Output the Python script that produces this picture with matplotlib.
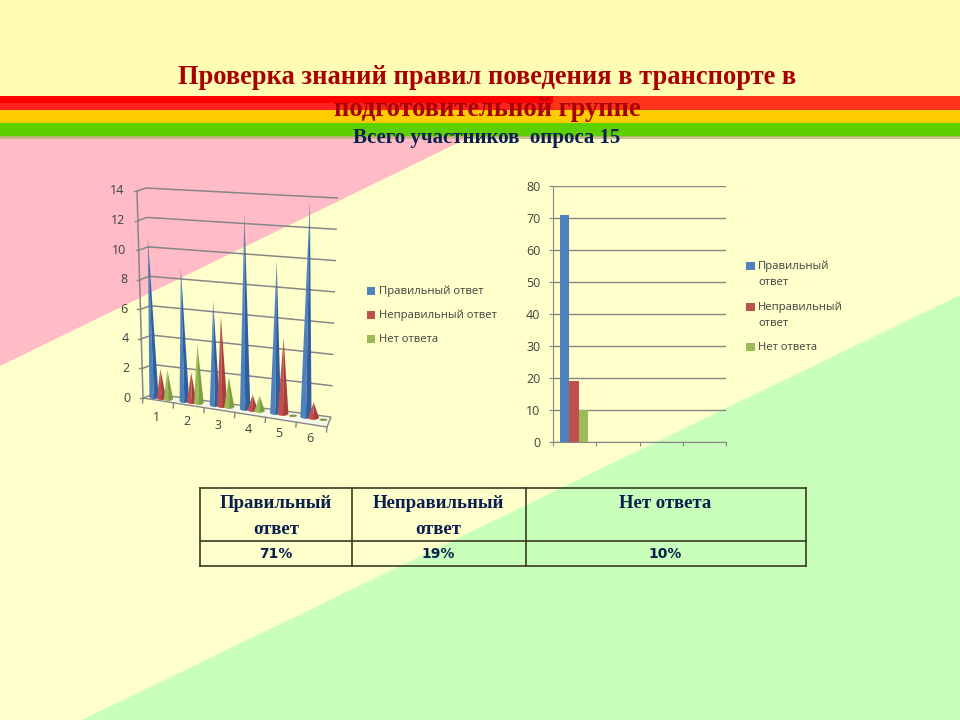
import matplotlib
matplotlib.use('Agg')
from matplotlib import pyplot as plt
from matplotlib.patches import Ellipse, Polygon, Rectangle

# опрос по вопросам, 15 участников
questions = ['1', '2', '3', '4', '5', '6']
right_answers = [11, 9, 7, 13, 10, 14]
wrong_answers = [2, 2, 6, 1, 5, 1]
no_answers = [2, 4, 2, 1, 0, 0]

# итог в процентах
series_names = ['Правильный ответ', 'Неправильный ответ', 'Нет ответа']
series_lines = [['Правильный', 'ответ'], ['Неправильный', 'ответ'], ['Нет ответа']]
percent_values = [71, 19, 10]
percent_labels = ['71%', '19%', '10%']

left_ticks = [0, 2, 4, 6, 8, 10, 12, 14]
right_ticks = [0, 10, 20, 30, 40, 50, 60, 70, 80]

BLUE = '#4F81BD'
RED = '#C0504D'
GREEN = '#9BBB59'
DARK_BLUE = '#2F5F9E'
DARK_RED = '#A83E3B'
DARK_GREEN = '#7F9F3F'
GRID = '#868686'
TEXT = '#404040'
NAVY = '#0A1F50'
SANS = 'Open Sans'
SERIF = 'Liberation Serif'

fig = plt.figure(figsize=(9.6, 7.2), dpi=100)

# фон, оси в пикселях картинки
bg = fig.add_axes([0, 0, 1, 1])
bg.set_xlim(0, 960)
bg.set_ylim(720, 0)
bg.axis('off')

bg.add_patch(Rectangle((0, 0), 960, 720, color='#FFFFCC', lw=0, zorder=0))
bg.add_patch(Rectangle((0, 0), 960, 97, color='#FFFCB4', lw=0, zorder=1))
bg.add_patch(Polygon([(0, 137), (470, 137), (0, 366)], color='#FFBBC6', lw=0, zorder=1))
bg.add_patch(Polygon([(960, 295), (960, 720), (82, 720)], color='#C8FFBA', lw=0, zorder=1))

# полосы
bg.add_patch(Rectangle((0, 96), 960, 15, color='#FF3319', lw=0, zorder=2))
bg.add_patch(Rectangle((0, 96), 553, 7, color='#FF0000', lw=0, zorder=2))
bg.add_patch(Rectangle((0, 103), 553, 7, color='#FF2020', lw=0, zorder=2))
bg.add_patch(Rectangle((0, 110), 960, 13.5, color='#FFCC00', lw=0, zorder=2))
bg.add_patch(Rectangle((0, 123), 960, 13.5, color='#5CD000', lw=0, zorder=2))
bg.add_patch(Rectangle((0, 136), 960, 3, color='#C0B080', alpha=0.8, lw=0, zorder=2))

# заголовок
bg.text(487, 77, 'Проверка знаний правил поведения в транспорте в', ha='center', va='center',
        family=SERIF, weight='bold', fontsize=19.1, color='#A80000', zorder=5)
bg.text(487, 109, 'подготовительной группе', ha='center', va='center',
        family=SERIF, weight='bold', fontsize=19.1, color='#A80000', zorder=5)
bg.text(487, 138, 'Всего участников  опроса 15', ha='center', va='center',
        family=SERIF, weight='bold', fontsize=15, color=NAVY, zorder=5)


# объемная диаграмма: задняя стенка
def wall(u, v):
    s = u / 6
    t = v / 14
    left_x = 154 + (146 - 154) * t
    left_y = 394 + (188 - 394) * t
    right_x = 331 + (337 - 331) * t
    right_y = 417 + (198 - 417) * t
    return left_x + (right_x - left_x) * s, left_y + (right_y - left_y) * s


def front_axis(v):
    t = v / 14
    return 143 + (137 - 143) * t, 398 + (191 - 398) * t


def floor_front(u):
    s = u / 6
    return 143 + (327 - 143) * s, 398 + (427 - 398) * s


bg.add_patch(Polygon([front_axis(0), floor_front(6), wall(6, 0), wall(0, 0)],
                     closed=True, facecolor='#F8F8E8', edgecolor=GRID, lw=1, zorder=3))
for v in left_ticks:
    fx, fy = front_axis(v)
    lx, ly = wall(0, v)
    rx, ry = wall(6, v)
    if v > 0:
        bg.plot([fx, lx, rx], [fy, ly, ry], color=GRID, lw=1.1, zorder=3)
    bg.plot([fx - 3, fx], [fy, fy], color=GRID, lw=1, zorder=3)
    bg.text(fx - 12.5, fy, str(v), ha='right', va='center', family=SANS,
            fontsize=9, color=TEXT, zorder=5)
bg.plot([front_axis(0)[0], front_axis(14)[0]], [front_axis(0)[1], front_axis(14)[1]],
        color=GRID, lw=1.1, zorder=3)
for i in range(7):
    fx, fy = floor_front(i)
    bg.plot([fx, fx - 0.5], [fy, fy + 5], color=GRID, lw=1, zorder=3)
for i, q in enumerate(questions):
    fx, fy = floor_front(i + 0.5)
    bg.text(fx - 2, fy + 17 - 0.7 * i, q, ha='center', va='center', family=SANS,
            fontsize=9, color=TEXT, zorder=5)


def cone(u, value, shift, half, light, dark, z):
    dx, dy = shift
    bx, by = wall(u, 0)
    bx, by = bx + dx, by + dy
    if value == 0:
        bg.add_patch(Ellipse((bx + 3, by + 1), 8, 2.5, color=dark, lw=0, zorder=z))
        return
    top_x, top_y = wall(u, value * 0.99)
    top_x, top_y = top_x + dx, top_y + dy
    bg.add_patch(Ellipse((bx, by), half * 2, 4, color=light, lw=0, zorder=z))
    bg.add_patch(Polygon([(top_x, top_y), (bx - half, by), (bx, by + 2)], color=light, lw=0, zorder=z))
    bg.add_patch(Polygon([(top_x, top_y), (bx, by + 2), (bx + half, by)], color=dark, lw=0, zorder=z))


for i in range(len(questions)):
    u = i * 1.03
    half = 4.6 + i * 0.2
    z = 4 + i * 0.01
    cone(u, right_answers[i], (0, 3), half, BLUE, DARK_BLUE, z)
    cone(u, wrong_answers[i], (7.5, 4), half, RED, DARK_RED, z + 0.001)
    cone(u, no_answers[i], (14.5, 5), half, GREEN, DARK_GREEN, z + 0.002)

# легенда объемной диаграммы
for name, col, y in zip(series_names, (BLUE, RED, GREEN), (291, 315, 339)):
    bg.add_patch(Rectangle((367, y - 4), 8, 8, color=col, lw=0, zorder=4))
    bg.text(379, y, name, ha='left', va='center', family=SANS, fontsize=8.1, color=TEXT, zorder=5)

# столбчатая диаграмма
ax = fig.add_axes([553 / 960, 1 - 442 / 720, (726 - 553) / 960, (442 - 186) / 720])
ax.patch.set_alpha(0)
bar_width = 0.215
bar_start = 0.16
for i, (val, col) in enumerate(zip(percent_values, (BLUE, RED, GREEN))):
    ax.bar(bar_start + bar_width * (i + 0.5), val, bar_width, color=col, zorder=3)
ax.set_xlim(0, 4)
ax.set_ylim(0, 80)
ax.set_yticks(right_ticks)
ax.set_xticks([0, 1, 2, 3, 4])
ax.set_xticklabels([])
ax.grid(axis='y', color=GRID, lw=1)
ax.set_axisbelow(True)
for side in ('top', 'right'):
    ax.spines[side].set_visible(False)
for side in ('left', 'bottom'):
    ax.spines[side].set_color(GRID)
ax.tick_params(axis='both', color=GRID, length=3, labelcolor=TEXT)
ax.tick_params(axis='y', labelsize=9, pad=6)
for lab in ax.get_yticklabels():
    lab.set_family(SANS)

# легенда столбчатой диаграммы
legend_y = [266, 307, 347]
for lines, col, y in zip(series_lines, (BLUE, RED, GREEN), legend_y):
    bg.add_patch(Rectangle((746, y - 4), 9, 8, color=col, lw=0, zorder=4))
    for k, line in enumerate(lines):
        bg.text(758, y + 16.5 * k, line, ha='left', va='center', family=SANS, fontsize=8.1,
                color=TEXT, zorder=5)

# таблица
table_color = '#3A3A20'
for y in (488, 541, 566):
    bg.plot([200, 806], [y, y], color=table_color, lw=1.2, zorder=4)
for x in (200, 352, 526, 806):
    bg.plot([x, x], [488, 566], color=table_color, lw=1.2, zorder=4)
col_centers = [276, 438, 665]
for cx, rows, lab in zip(col_centers, series_lines, percent_labels):
    for k, row in enumerate(rows):
        bg.text(cx, 503 + 26.5 * k, row, ha='center', va='center', family=SERIF, weight='bold',
                fontsize=13.5, color=NAVY, zorder=5)
    bg.text(cx, 554, lab, ha='center', va='center', family='DejaVu Sans', weight='bold',
            fontsize=10, color=NAVY, zorder=5)

fig.savefig('out.png', dpi=100)
